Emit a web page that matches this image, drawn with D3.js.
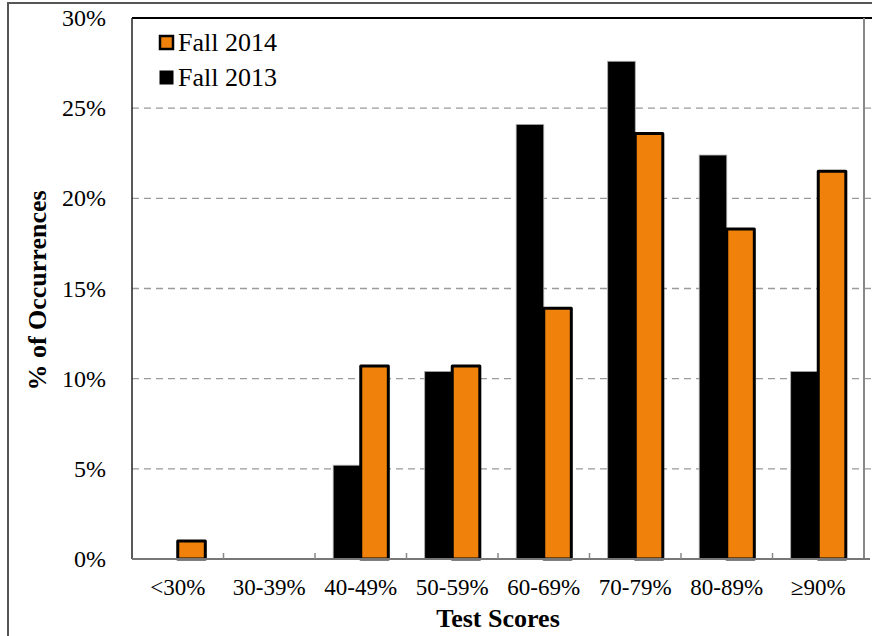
<!DOCTYPE html>
<html>
<head>
<meta charset="utf-8">
<script src="https://cdn.jsdelivr.net/npm/d3@7"></script>
<style>
    body { margin: 0; background: #fff; }
    svg { display: block; font-family: "Liberation Serif", "Times New Roman", serif; }
</style>
</head>
<body>
<svg id="chart"></svg>
<script>
const categories = ["<30%", "30-39%", "40-49%", "50-59%", "60-69%", "70-79%", "80-89%", "\u226590%"];
const fall2013 = [0, 0, 5.2, 10.4, 24.1, 27.6, 22.4, 10.4];
const fall2014 = [1.0, 0, 10.7, 10.7, 13.9, 23.6, 18.3, 21.5];
const yTicks = [0, 5, 10, 15, 20, 25, 30];
const seriesNames = ["Fall 2014", "Fall 2013"];

const config = {
    vw: 872, vh: 636,
    left: 132, right: 864, top: 18, bottom: 559,
    orange: "#f0820c"
};

const svg = d3.select("#chart")
    .attr("width", config.vw)
    .attr("height", config.vh);

// outer frame
svg.append("rect")
    .attr("x", 8).attr("y", 3)
    .attr("width", 900).attr("height", 700)
    .attr("fill", "none").attr("stroke", "#555").attr("stroke-width", 2);

const x = d3.scaleBand()
    .domain(categories)
    .range([config.left, config.right]);

const xInner = d3.scaleBand()
    .domain(["2013", "2014"])
    .range([0, x.bandwidth()])
    .paddingOuter(0.66);

const y = d3.scaleLinear()
    .domain([0, 30])
    .range([config.bottom, config.top]);

// grid
svg.append("g")
    .selectAll("line")
    .data(yTicks.filter(d => d > 0 && d < 30))
    .join("line")
    .attr("x1", config.left).attr("x2", 872)
    .attr("y1", d => y(d)).attr("y2", d => y(d))
    .attr("stroke", "#9a9a9a").attr("stroke-width", 1.3)
    .attr("stroke-dasharray", "7,5");

// y tick labels
svg.append("g")
    .selectAll("text")
    .data(yTicks)
    .join("text")
    .attr("x", 106)
    .attr("y", d => y(d) + 8)
    .attr("text-anchor", "end")
    .attr("font-size", 24)
    .text(d => d + "%");

// bars
const groups = svg.append("g")
    .selectAll("g")
    .data(categories)
    .join("g")
    .attr("transform", d => `translate(${x(d)},0)`);

groups.append("rect")
    .attr("x", xInner("2013"))
    .attr("width", xInner.bandwidth())
    .attr("y", (d, i) => y(fall2013[i]))
    .attr("height", (d, i) => y(0) - y(fall2013[i]))
    .attr("fill", "#000")
    .attr("stroke", "#aaa").attr("stroke-width", 0.8)
    .style("display", (d, i) => fall2013[i] > 0 ? null : "none");

groups.append("rect")
    .attr("x", xInner("2014"))
    .attr("width", xInner.bandwidth())
    .attr("y", (d, i) => y(fall2014[i]))
    .attr("height", (d, i) => y(0) - y(fall2014[i]))
    .attr("fill", config.orange)
    .attr("stroke", "#000").attr("stroke-width", 3)
    .attr("stroke-linejoin", "round")
    .style("display", (d, i) => fall2014[i] > 0 ? null : "none");

// plot borders
svg.append("line")
    .attr("x1", config.left).attr("x2", 872)
    .attr("y1", config.top).attr("y2", config.top)
    .attr("stroke", "#000").attr("stroke-width", 2);
svg.append("line")
    .attr("x1", config.left).attr("x2", config.left)
    .attr("y1", config.top).attr("y2", config.bottom)
    .attr("stroke", "#222").attr("stroke-width", 1.5);
svg.append("line")
    .attr("x1", config.right).attr("x2", config.right)
    .attr("y1", config.top).attr("y2", config.bottom)
    .attr("stroke", "#888").attr("stroke-width", 2);

// x axis
const xAxis = d3.axisBottom(x).tickSize(0).tickPadding(0).tickFormat("");
svg.append("g")
    .attr("transform", `translate(0,${config.bottom})`)
    .call(xAxis)
    .call(g => g.select(".domain").attr("stroke", "#777").attr("stroke-width", 2)
        .attr("d", `M${config.left},0H${config.right + 6}`));

svg.append("g")
    .selectAll("line")
    .data(categories.slice(1))
    .join("line")
    .attr("x1", d => x(d)).attr("x2", d => x(d))
    .attr("y1", config.bottom).attr("y2", config.bottom - 6)
    .attr("stroke", "#888").attr("stroke-width", 1.5);

svg.append("g")
    .selectAll("text")
    .data(categories)
    .join("text")
    .attr("x", d => x(d) + x.bandwidth() / 2)
    .attr("y", 595)
    .attr("text-anchor", "middle")
    .attr("font-size", 23)
    .text(d => d);

// axis titles
svg.append("text")
    .attr("x", (config.left + config.right) / 2)
    .attr("y", 627)
    .attr("text-anchor", "middle")
    .attr("font-size", 26).attr("font-weight", "bold")
    .text("Test Scores");

svg.append("text")
    .attr("transform", `translate(46,${(config.top + config.bottom) / 2 + 2}) rotate(-90)`)
    .attr("text-anchor", "middle")
    .attr("font-size", 26).attr("font-weight", "bold")
    .text("% of Occurrences");

// legend
const legend = svg.append("g")
    .selectAll("g")
    .data(seriesNames)
    .join("g")
    .attr("transform", (d, i) => `translate(159,${35 + i * 35})`);

legend.append("rect")
    .attr("x", 1).attr("y", 1)
    .attr("width", 13).attr("height", 13)
    .attr("fill", (d, i) => i === 0 ? config.orange : "#000")
    .attr("stroke", "#000").attr("stroke-width", (d, i) => i === 0 ? 2.5 : 1);

legend.append("text")
    .attr("x", 19).attr("y", 16)
    .attr("font-size", 26)
    .text(d => d);
</script>
</body>
</html>
